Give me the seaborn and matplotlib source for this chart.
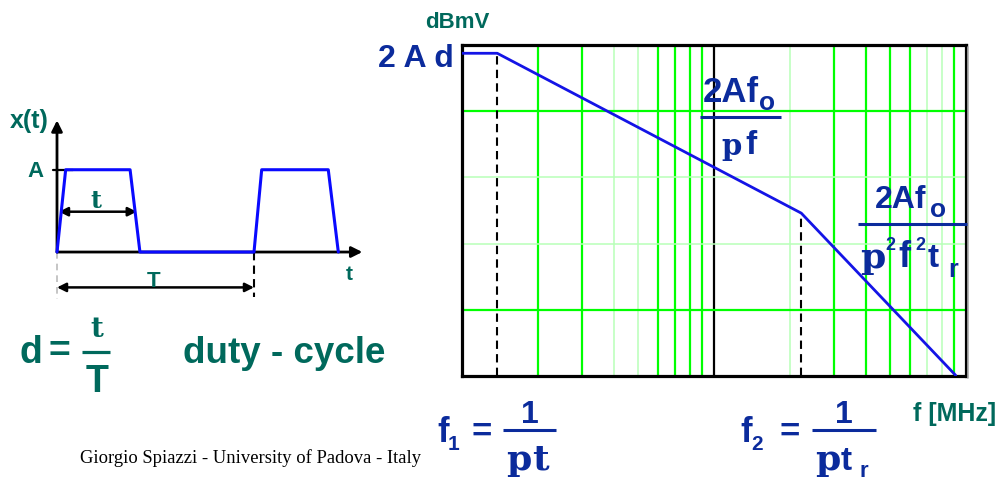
import matplotlib
matplotlib.use("Agg")
import matplotlib.pyplot as plt
import seaborn as sns
import pandas as pd

sns.set_style("white")
plt.rcParams["font.family"] = ["Liberation Sans", "DejaVu Sans"]

# ---- spectrum envelope (log frequency, dB) ----
freq_mhz = [1.0, 1.38, 22.2, 91.0]
level_db = [-1.25, -1.25, -25.4, -49.9]

# grid frequencies / levels
grid_f_strong = [2, 3, 6, 7, 8, 9, 30, 40, 50, 60, 90]
grid_f_faint = [4, 5, 20, 70, 80]
grid_f_decade = [10]
grid_db_strong = [-10, -40]
grid_db_faint = [-20, -30]

# ---- trapezoidal pulse train (time in periods, amplitude in A) ----
t_norm = [0.0, 0.044, 0.371, 0.421, 1.0, 1.039, 1.377, 1.428]
x_norm = [0, 1, 1, 0, 0, 1, 1, 0]

TEAL = "#00695c"
NAVY = "#0b2b9c"
LINE_BLUE = "#1414e6"
LIME = "#00ff00"
PALE = "#b8ffb8"

W, H = 1002, 481
fig = plt.figure(figsize=(W / 100, H / 100), dpi=100)


def box(x0, y0, x1, y1):
    return [x0 / W, 1 - y1 / H, (x1 - x0) / W, (y1 - y0) / H]


# ================= spectrum panel =================
ax = fig.add_axes(box(462, 46, 966, 377))
ax.set_xscale("log")
ax.set_xlim(1, 100)
ax.set_ylim(-50, 0)
for f in grid_f_faint:
    ax.axvline(f, color=PALE, lw=1.1, zorder=1)
for f in grid_f_strong:
    ax.axvline(f, color=LIME, lw=1.6, zorder=1)
for f in grid_f_decade:
    ax.axvline(f, color="black", lw=1.6, zorder=1)
for v in grid_db_faint:
    ax.axhline(v, color=PALE, lw=1.1, zorder=1)
for v in grid_db_strong:
    ax.axhline(v, color=LIME, lw=1.6, zorder=1)

spec = pd.DataFrame({"f": freq_mhz, "dB": level_db})
sns.lineplot(data=spec, x="f", y="dB", ax=ax, color=LINE_BLUE, lw=2.0,
             estimator=None, sort=False, zorder=4)
# corner frequencies
for i in (1, 2):
    ax.vlines(freq_mhz[i], -50, level_db[i], colors="black", lw=1.5,
              linestyles=(0, (4, 2.5)), zorder=3)

ax.set_xticks([])
ax.set_yticks([])
ax.minorticks_off()
ax.set_xlabel("")
ax.set_ylabel("")
for s in ax.spines.values():
    s.set_linewidth(2.3)
    s.set_color("black")

# ================= time-domain panel =================
tx = fig.add_axes(box(17.6, 104.9, 372.2, 302.4))
tx.set_xlim(-0.2, 1.6)
tx.set_ylim(-0.6, 1.8)
tx.axis("off")
wave = pd.DataFrame({"t": t_norm, "x": x_norm})
sns.lineplot(data=wave, x="t", y="x", ax=tx, color="#0a0aff", lw=2.2,
             estimator=None, sort=False, zorder=4)
arrow_kw = dict(arrowstyle="-|>", color="black", lw=2.0, mutation_scale=16,
                shrinkA=0, shrinkB=0)
tx.annotate("", xy=(1.55, 0), xytext=(0, 0), arrowprops=arrow_kw, zorder=3)
tx.annotate("", xy=(0, 1.6), xytext=(0, 0), arrowprops=arrow_kw, zorder=3)
dbl_kw = dict(arrowstyle="<|-|>", color="black", lw=1.8, mutation_scale=13,
              shrinkA=0, shrinkB=0)
tx.annotate("", xy=(0.405, 0.49), xytext=(0.01, 0.49), arrowprops=dbl_kw)
tx.annotate("", xy=(1.0, -0.43), xytext=(0.0, -0.43), arrowprops=dbl_kw)
tx.plot([0, 0], [0, -0.57], color="#bbbbbb", lw=1.2, ls=(0, (4, 3)))
tx.plot([1, 1], [0, -0.55], color="black", lw=1.5, ls=(0, (4, 2.5)))
tx.plot([-0.02, 0.08], [1, 1], color="black", lw=1.6, zorder=3)

# ================= text layer (pixel coordinates) =================
ov = fig.add_axes([0, 0, 1, 1], zorder=10)
ov.set_xlim(0, W)
ov.set_ylim(H, 0)
ov.axis("off")
ov.patch.set_alpha(0)

SANS = ["Liberation Sans", "DejaVu Sans"]
SERIF = ["DejaVu Serif"]


def txt(x, y, s, size, color, ha="left", va="baseline", family=SANS,
        weight="bold"):
    ov.text(x, y, s, fontsize=size, color=color, ha=ha, va=va,
            family=family, weight=weight)


def bar(x0, x1, y, color, lw=2.2):
    ov.plot([x0, x1], [y, y], color=color, lw=lw, solid_capstyle="butt")


# soft shadow along the right edge of the spectrum frame
ov.plot([968.5, 968.5], [48, 379], color="#b0b0b0", lw=1.2)

# time-domain labels
txt(10, 128, "x(t)", 18, TEAL)
txt(27, 177, "A", 16, TEAL)
txt(96, 208, "t", 17, TEAL, ha="center", family=SERIF)
txt(154, 287, "T", 16, TEAL, ha="center")
txt(349, 280, "t", 15, TEAL, ha="center")

# duty-cycle definition
txt(20, 363, "d", 27, TEAL)
txt(59, 352, "=", 27, TEAL, ha="center", va="center")
bar(82, 110, 352.5, TEAL, lw=2.3)
txt(97, 337, "t", 20, TEAL, ha="center", family=SERIF)
txt(97, 392, "T", 27, TEAL, ha="center")
txt(183, 363, "duty - cycle", 26.5, TEAL)

txt(80, 463, "Giorgio Spiazzi - University of Padova - Italy", 13.4,
    "black", family=["Liberation Serif"], weight="normal")

# spectrum labels
txt(425, 28, "dBmV", 16, TEAL)
txt(378, 67, "2 A d", 23, NAVY)

# first slope
txt(703, 102, "2Af", 25, NAVY)
txt(759, 110, "o", 19, NAVY)
bar(700, 781, 118, NAVY)
txt(721, 155, "p", 21, NAVY, family=SERIF)
txt(745, 154, "f", 24, NAVY)

# second slope
txt(875, 208, "2Af", 23, NAVY)
txt(930, 217, "o", 19, NAVY)
bar(858, 967, 225, NAVY)
txt(860, 268, "p", 26, NAVY, family=SERIF)
txt(885, 250, "2", 13, NAVY)
txt(898, 267, "f", 26, NAVY)
txt(915, 250, "2", 13, NAVY)
txt(928, 267, "t", 24, NAVY)
txt(948, 277, "r", 18, NAVY)

# corner frequency formulas
txt(437, 442, "f", 25, NAVY)
txt(448, 450, "1", 15, NAVY)
txt(482, 432, "=", 25, NAVY, ha="center", va="center")
bar(503, 556, 431, NAVY)
txt(530, 423, "1", 23, NAVY, ha="center")
txt(506, 470, "p", 26, NAVY, family=SERIF)
txt(532, 470, "t", 26, NAVY, family=SERIF)

txt(740, 442, "f", 25, NAVY)
txt(751, 450, "2", 15, NAVY)
txt(790, 432, "=", 25, NAVY, ha="center", va="center")
bar(812, 876, 431, NAVY)
txt(844, 423, "1", 23, NAVY, ha="center")
txt(815, 470, "p", 26, NAVY, family=SERIF)
txt(841, 470, "t", 24, NAVY)
txt(860, 477, "r", 16, NAVY)

txt(913, 421, "f [MHz]", 18, TEAL)

fig.savefig("out.png", dpi=100)
